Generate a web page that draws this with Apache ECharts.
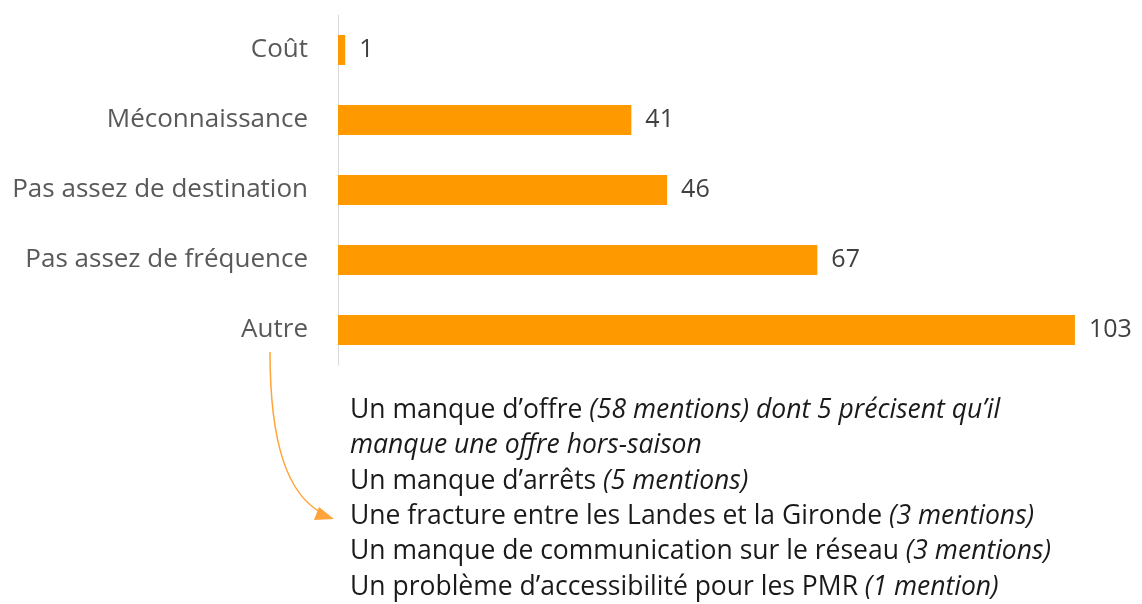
<!DOCTYPE html>
<html>
<head>
<meta charset="utf-8">
<script src="https://cdn.jsdelivr.net/npm/echarts@6/dist/echarts.min.js"></script>
<style>
  html, body { margin: 0; padding: 0; background: #fff; }
  #chart { width: 1142px; height: 604px; }
</style>
</head>
<body>
<div id="chart"></div>
<script>
// catégories et valeurs
const categories = ['Coût', 'Méconnaissance', 'Pas assez de destination', 'Pas assez de fréquence', 'Autre']
const values = [1, 41, 46, 67, 103]

// détail de "Autre" : [texte normal, texte en italique]
const autreDetails = [
  ['Un manque d\u2019offre ', '(58 mentions) dont 5 précisent qu\u2019il'],
  ['', 'manque une offre hors-saison'],
  ['Un manque d\u2019arrêts ', '(5 mentions)'],
  ['Une fracture entre les Landes et la Gironde ', '(3 mentions)'],
  ['Un manque de communication sur le réseau ', '(3 mentions)'],
  ['Un problème d\u2019accessibilité pour les PMR ', '(1 mention)'],
]

;(function () {
  const font = '"Open Sans", "Noto Sans", sans-serif'
  let myChart = echarts.init(document.getElementById('chart'))

  const detailText = autreDetails
    .map((l) => (l[0] ? '{n|' + l[0] + '}' : '') + (l[1] ? '{i|' + l[1] + '}' : ''))
    .join('\n')

  let options = {
    animation: false,
    grid: {
      left: 338,
      top: 15,
      width: 787,
      height: 350,
    },
    xAxis: {
      type: 'value',
      min: 0,
      max: 110,
      show: false,
    },
    yAxis: {
      type: 'category',
      data: categories,
      inverse: true,
      axisTick: { show: false },
      axisLine: {
        lineStyle: { color: '#d9d9d9', width: 1 },
      },
      axisLabel: {
        color: '#595959',
        fontSize: 26,
        fontFamily: font,
        margin: 30,
      },
    },
    series: [
      {
        type: 'bar',
        data: values,
        barWidth: 30,
        itemStyle: { color: '#ff9900' },
        label: {
          show: true,
          position: 'right',
          distance: 14,
          color: '#404040',
          fontSize: 25,
          fontFamily: font,
        },
      },
    ],
    graphic: [
      {
        type: 'text',
        left: 350,
        top: 393,
        style: {
          text: detailText,
          fontSize: 26.5,
          fontFamily: font,
          fill: '#1a1a1a',
          lineHeight: 35.3,
          rich: {
            n: { fontSize: 26.5, fontFamily: font, fill: '#1a1a1a', lineHeight: 35.3 },
            i: { fontSize: 26.5, fontFamily: font, fill: '#1a1a1a', fontStyle: 'italic', lineHeight: 35.3 },
          },
        },
      },
      // flèche
      {
        type: 'bezierCurve',
        shape: { x1: 270, y1: 352, cpx1: 270, cpy1: 445, cpx2: 288, cpy2: 495, x2: 322, y2: 513 },
        style: { stroke: '#ffa43a', lineWidth: 1.5, fill: null },
      },
      {
        type: 'polygon',
        shape: { points: [[334, 519], [319, 507], [314, 520]] },
        style: { fill: '#ffa43a' },
      },
    ],
  }
  myChart.setOption(options)
})()
</script>
</body>
</html>
